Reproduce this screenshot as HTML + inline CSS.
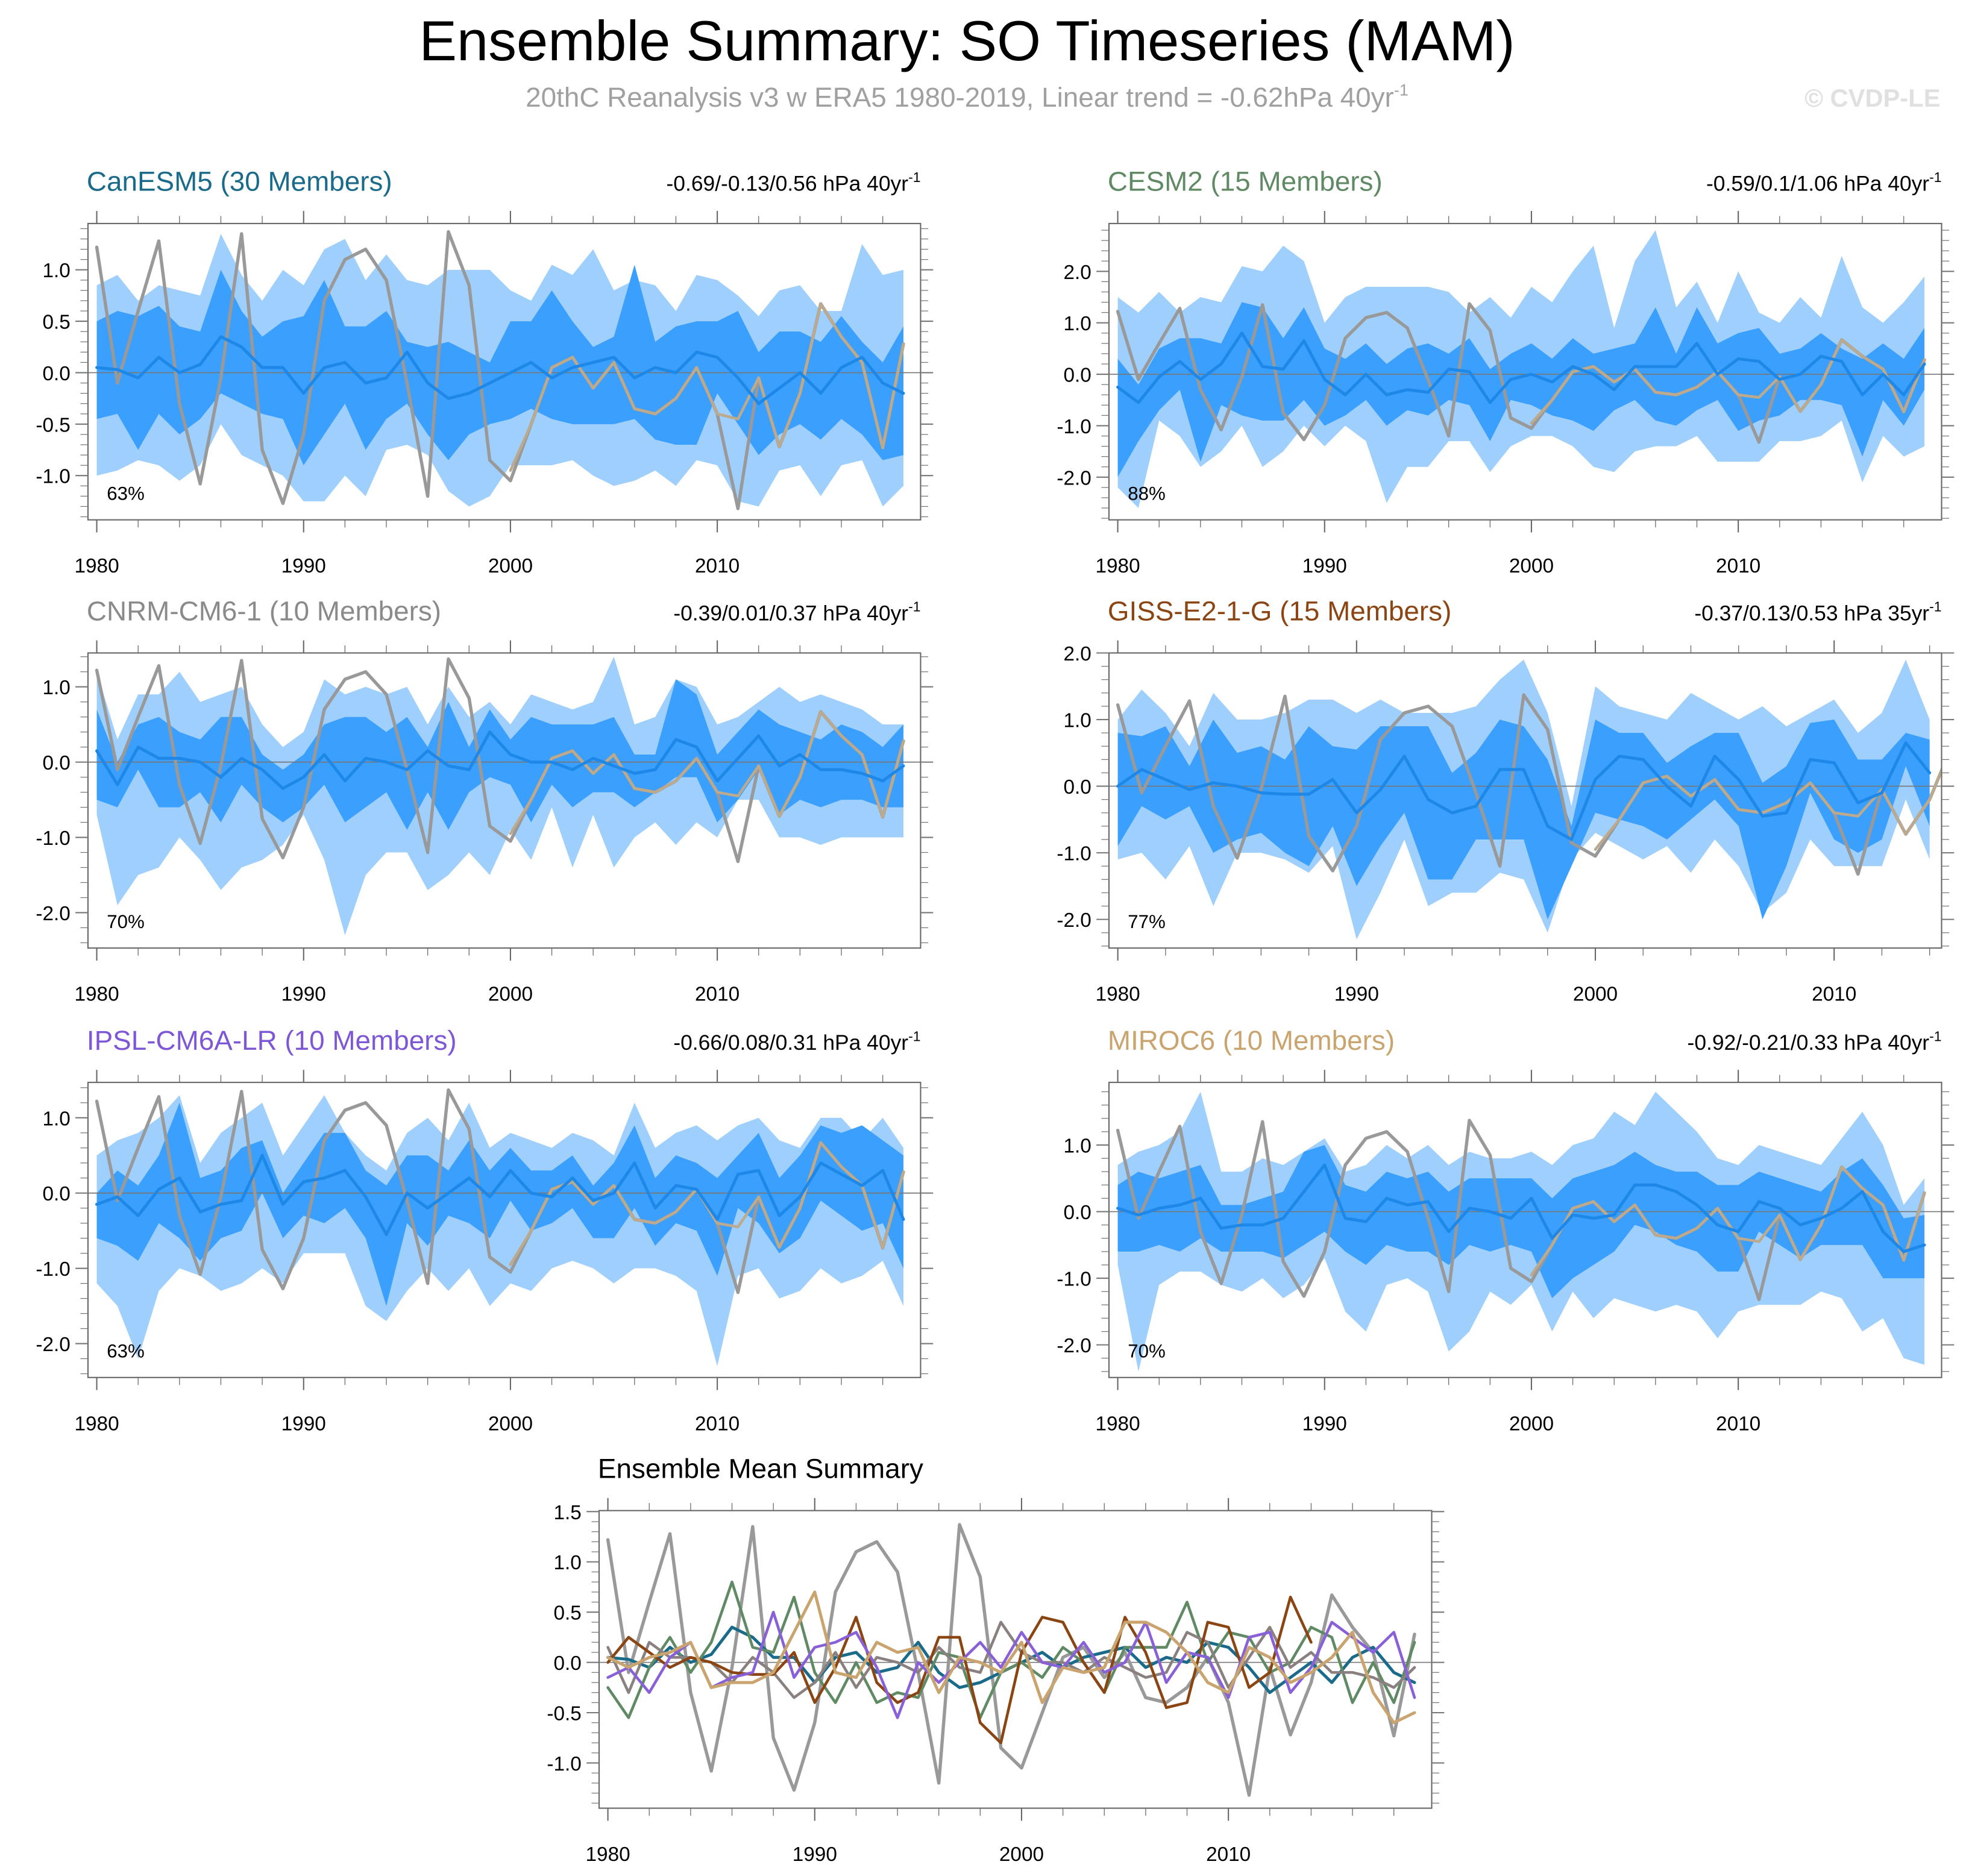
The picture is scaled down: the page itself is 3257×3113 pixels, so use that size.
<!DOCTYPE html>
<html><head><meta charset="utf-8"><style>
html,body{margin:0;padding:0;background:#fff}
svg{display:block}
text{font-family:"Liberation Sans",Arial,sans-serif}
</style></head><body>
<svg id="chart" xmlns="http://www.w3.org/2000/svg" width="3257" height="3113" viewBox="0 0 1563 1494">
<rect x="0" y="0" width="1563" height="1494" fill="#fff"/>
<text x="770" y="48" font-size="45" text-anchor="middle" fill="#000">Ensemble Summary: SO Timeseries (MAM)</text>
<text x="770" y="85" font-size="22" text-anchor="middle" fill="#a0a0a0">20thC Reanalysis v3 w ERA5 1980-2019, Linear trend = -0.62hPa 40yr<tspan dy="-9" font-size="13">-1</tspan></text>
<text x="1545" y="85" font-size="20" font-weight="bold" text-anchor="end" fill="#e0e0e0">© CVDP-LE</text>
</svg>
<script>
const years = [];
for (let y = 1980; y <= 2019; y++) years.push(y);
const obs = [1.22,-0.1,0.6,1.28,-0.3,-1.08,-0.05,1.35,-0.75,-1.27,-0.6,0.7,1.1,1.2,0.9,-0.1,-1.2,1.37,0.85,-0.85,-1.05,-0.5,0.05,0.15,-0.15,0.1,-0.35,-0.4,-0.25,0.05,-0.4,-1.32,-0.05,-0.72,-0.2,0.67,0.35,0.1,-0.73,0.28];
const era5 = [-0.95,-0.5,0.05,0.15,-0.15,0.1,-0.35,-0.4,-0.25,0.05,-0.4,-0.45,-0.05,-0.72,-0.2,0.67,0.35,0.1,-0.73,0.28];

const canMean=[0.05,0.03,-0.05,0.15,0.0,0.08,0.35,0.25,0.05,0.05,-0.2,0.05,0.1,-0.1,-0.05,0.2,-0.1,-0.25,-0.2,-0.1,0.0,0.1,-0.05,0.05,0.1,0.15,-0.05,0.05,0.0,0.2,0.15,-0.05,-0.3,-0.15,0.0,-0.2,0.05,0.15,-0.1,-0.2];
const canLHi=[0.85,0.95,0.7,0.85,0.8,0.75,1.35,0.95,0.7,1.0,0.85,1.2,1.3,0.9,1.15,0.9,0.85,1.0,1.0,1.0,0.8,0.7,1.05,0.95,1.2,0.8,0.9,0.85,0.6,0.95,0.9,0.75,0.55,0.8,0.85,0.6,0.6,1.25,0.95,1.0];
const canLLo=[-1.0,-0.95,-0.85,-0.9,-1.05,-0.9,-0.5,-0.8,-0.9,-1.0,-1.25,-1.25,-1.0,-1.2,-0.75,-0.7,-0.8,-1.15,-1.3,-1.2,-0.9,-0.9,-0.9,-0.85,-1.0,-1.1,-1.05,-0.95,-1.1,-0.85,-0.9,-1.25,-1.3,-0.95,-0.9,-1.2,-0.9,-0.85,-1.3,-1.1];
const canDHi=[0.5,0.6,0.55,0.65,0.45,0.4,1.0,0.6,0.35,0.5,0.55,0.9,0.45,0.45,0.6,0.3,0.25,0.3,0.2,0.1,0.5,0.5,0.8,0.5,0.25,0.35,1.05,0.3,0.45,0.5,0.5,0.6,0.2,0.4,0.4,0.3,0.55,0.3,0.1,0.45];
const canDLo=[-0.45,-0.4,-0.75,-0.4,-0.6,-0.45,-0.2,-0.3,-0.4,-0.45,-0.9,-0.6,-0.3,-0.75,-0.45,-0.3,-0.6,-0.85,-0.6,-0.5,-0.45,-0.35,-0.45,-0.5,-0.5,-0.5,-0.45,-0.65,-0.7,-0.7,-0.2,-0.5,-0.8,-0.6,-0.5,-0.65,-0.45,-0.6,-0.85,-0.8];

const cesMean=[-0.25,-0.55,-0.05,0.25,-0.1,0.2,0.8,0.15,0.1,0.65,-0.1,-0.4,0.0,-0.4,-0.3,-0.35,0.1,0.05,-0.55,-0.1,0.0,-0.15,0.15,0.0,-0.3,0.15,0.15,0.15,0.6,0.0,0.3,0.25,-0.1,0.0,0.35,0.25,-0.4,0.0,-0.4,0.2];
const cesLHi=[1.5,1.2,1.6,1.2,1.5,1.4,2.1,2.0,2.5,2.2,1.0,1.5,1.7,1.7,1.7,1.7,1.6,1.2,1.5,1.1,1.7,1.4,2.0,2.5,0.9,2.2,2.8,1.3,1.8,1.0,2.0,1.2,1.0,1.5,1.1,2.3,1.3,1.0,1.4,1.9];
const cesLLo=[-2.2,-2.6,-0.9,-1.2,-1.8,-1.5,-1.0,-1.8,-1.5,-1.0,-1.4,-1.0,-1.3,-2.5,-1.8,-1.8,-1.3,-1.3,-1.9,-1.4,-1.2,-1.2,-1.4,-1.8,-1.9,-1.5,-1.4,-1.4,-1.2,-1.7,-1.7,-1.7,-1.3,-1.3,-1.2,-0.9,-2.1,-1.2,-1.6,-1.4];
const cesDHi=[0.3,-0.2,0.5,0.7,0.7,0.6,1.4,1.3,0.7,1.3,0.5,0.3,0.6,0.2,0.5,0.6,0.4,0.7,0.1,0.4,0.6,0.3,0.7,0.4,0.5,0.6,1.3,0.4,1.3,0.6,0.8,0.9,0.4,0.5,0.8,0.5,0.3,0.6,0.3,0.9];
const cesDLo=[-2.0,-1.3,-0.7,-0.3,-1.7,-0.6,-0.8,-0.9,-0.9,-0.5,-1.0,-0.8,-0.5,-1.0,-0.7,-0.8,-0.5,-0.6,-1.3,-0.5,-0.6,-0.8,-0.9,-1.1,-0.7,-0.5,-0.9,-1.0,-0.7,-0.5,-1.1,-0.9,-0.8,-0.5,-0.5,-0.6,-1.6,-0.5,-1.0,-0.3];

const cnrMean=[0.15,-0.3,0.2,0.05,0.05,0.0,-0.2,0.05,-0.1,-0.35,-0.2,0.1,-0.25,0.05,0.0,-0.1,0.15,-0.05,-0.1,0.4,0.1,0.0,0.0,-0.1,0.05,-0.05,-0.15,-0.1,0.3,0.2,-0.25,0.05,0.35,-0.05,0.1,-0.1,-0.1,-0.15,-0.25,-0.05];
const cnrLHi=[1.2,0.3,0.9,0.9,1.2,0.8,0.9,1.0,0.5,0.2,0.4,1.1,0.9,1.0,0.9,1.0,0.5,1.0,0.6,0.8,0.5,0.9,0.8,0.7,0.8,1.4,0.5,0.6,1.1,1.0,0.5,0.6,0.8,1.0,0.8,0.9,0.8,0.7,0.5,0.5];
const cnrLLo=[-0.7,-1.9,-1.5,-1.4,-1.0,-1.3,-1.7,-1.4,-1.3,-1.1,-0.7,-1.3,-2.3,-1.5,-1.2,-1.2,-1.7,-1.5,-1.2,-1.5,-0.9,-1.3,-0.6,-1.4,-0.7,-1.4,-1.0,-0.8,-1.1,-0.8,-1.0,-0.5,-0.5,-1.0,-1.0,-1.1,-1.0,-1.0,-1.0,-1.0];
const cnrDHi=[0.7,0.0,0.5,0.6,0.4,0.3,0.6,0.6,0.1,-0.1,0.1,0.5,0.6,0.6,0.4,0.6,0.2,0.8,0.2,0.7,0.3,0.6,0.5,0.5,0.5,0.6,0.1,0.1,1.1,0.9,0.1,0.4,0.7,0.5,0.4,0.3,0.5,0.4,0.2,0.5];
const cnrDLo=[-0.5,-0.6,-0.1,-0.6,-0.6,-0.4,-0.8,-0.3,-0.6,-0.8,-0.6,-0.3,-0.8,-0.6,-0.4,-0.9,-0.4,-0.9,-0.4,-0.2,-0.3,-0.8,-0.3,-0.6,-0.4,-0.4,-0.6,-0.4,-0.2,-0.2,-0.8,-0.5,-0.1,-0.7,-0.5,-0.6,-0.5,-0.5,-0.6,-0.6];

const gisMean=[0.0,0.25,0.1,-0.05,0.05,0.0,-0.1,-0.12,-0.12,0.1,-0.4,-0.05,0.45,-0.2,-0.4,-0.3,0.25,0.25,-0.6,-0.8,0.1,0.45,0.4,0.0,-0.3,0.45,0.1,-0.45,-0.4,0.4,0.35,-0.25,-0.1,0.65,0.2];
const gisLHi=[1.0,1.45,1.1,0.6,1.4,1.0,1.0,1.1,1.3,1.3,1.1,1.3,1.1,1.1,1.1,1.2,1.6,1.9,1.1,-0.3,1.5,1.2,1.1,1.0,1.4,1.2,1.0,1.2,0.9,1.1,1.3,0.8,1.1,1.9,1.0];
const gisLLo=[-1.1,-1.0,-1.4,-0.9,-1.8,-1.0,-1.0,-1.1,-1.3,-0.9,-2.3,-1.6,-0.8,-1.8,-1.6,-1.6,-1.3,-1.4,-2.2,-1.1,-0.7,-0.9,-1.1,-0.9,-1.3,-0.8,-1.2,-1.9,-1.6,-0.8,-1.2,-1.2,-1.2,-0.2,-1.1];
const gisDHi=[0.8,0.75,0.9,0.3,1.0,0.5,0.6,0.4,0.9,0.6,0.55,0.9,0.9,0.9,0.2,0.5,1.0,0.9,0.4,-0.6,1.0,0.8,0.8,0.35,0.6,0.8,0.8,0.05,0.3,0.95,1.0,0.4,0.4,0.8,0.7];
const gisDLo=[-0.9,-0.3,-0.5,-0.3,-1.0,-0.8,-0.7,-1.0,-1.2,-0.6,-1.5,-0.9,-0.4,-1.4,-1.4,-0.8,-0.8,-0.8,-2.0,-1.2,-0.4,-0.5,-0.6,-0.8,-0.5,-0.2,-0.6,-2.0,-1.2,-0.1,-0.8,-1.0,-0.8,0.3,-0.6];

const ipsMean=[-0.15,-0.05,-0.3,0.05,0.2,-0.25,-0.15,-0.1,0.5,-0.15,0.15,0.2,0.3,-0.05,-0.55,0.0,-0.2,0.0,0.2,-0.05,0.3,0.0,-0.05,0.2,-0.1,0.0,0.4,-0.2,0.1,0.05,-0.35,0.25,0.3,-0.3,-0.05,0.4,0.25,0.1,0.3,-0.35];
const ipsLHi=[0.5,0.7,0.8,1.0,1.3,0.4,0.8,1.0,1.2,0.5,0.9,1.3,0.8,0.5,0.3,0.8,1.0,0.7,1.2,0.6,0.8,0.7,0.6,0.8,0.7,0.5,1.2,0.6,0.8,0.9,0.7,0.9,1.0,0.7,0.6,1.0,1.0,0.7,1.0,0.6];
const ipsLLo=[-1.2,-1.5,-2.2,-1.3,-1.0,-1.1,-1.3,-1.2,-1.0,-1.2,-0.8,-0.8,-0.8,-1.5,-1.7,-1.3,-1.0,-1.3,-1.0,-1.5,-1.2,-1.3,-1.0,-0.9,-1.0,-1.2,-1.0,-1.0,-1.1,-1.3,-2.3,-1.1,-1.0,-1.4,-1.3,-1.0,-1.2,-1.1,-0.9,-1.5];
const ipsDHi=[0.0,0.3,0.1,0.5,1.2,0.2,0.3,0.6,0.7,0.0,0.4,0.8,0.8,0.3,0.1,0.5,0.5,0.3,0.7,0.3,0.6,0.3,0.3,0.5,0.1,0.4,0.9,0.2,0.5,0.4,0.2,0.5,0.8,0.2,0.5,0.9,0.8,0.9,0.7,0.5];
const ipsDLo=[-0.6,-0.7,-0.9,-0.4,-0.6,-0.9,-0.6,-0.5,0.0,-0.6,-0.3,-0.4,-0.2,-0.6,-1.5,-0.4,-0.7,-0.3,-0.4,-0.6,-0.1,-0.5,-0.4,-0.2,-0.6,-0.6,-0.2,-0.7,-0.4,-0.5,-1.1,-0.2,-0.4,-0.8,-0.6,-0.1,-0.3,-0.5,-0.4,-1.0];

const mirMean=[0.05,-0.05,0.05,0.1,0.2,-0.25,-0.2,-0.2,-0.1,0.3,0.7,-0.1,-0.15,0.2,0.1,0.15,-0.3,0.05,0.0,-0.1,0.2,-0.4,-0.05,-0.1,-0.05,0.4,0.4,0.3,0.1,-0.2,-0.3,0.15,0.05,-0.2,-0.1,0.05,0.3,-0.3,-0.6,-0.5];
const mirLHi=[0.7,0.9,1.0,1.2,1.8,0.6,0.6,0.8,0.7,0.9,1.1,0.6,0.7,1.0,0.8,1.0,0.7,0.9,0.8,0.8,0.9,0.7,1.0,1.1,1.5,1.3,1.8,1.5,1.2,0.8,0.7,1.0,0.9,0.8,0.7,1.1,1.5,1.0,0.1,0.5];
const mirLLo=[-0.8,-2.4,-1.1,-0.9,-0.9,-1.1,-1.2,-1.0,-1.3,-1.1,-0.7,-1.5,-1.8,-1.1,-1.0,-1.2,-2.1,-1.8,-1.2,-1.4,-1.1,-1.8,-1.2,-1.6,-1.3,-1.4,-1.5,-1.4,-1.5,-1.9,-1.5,-1.4,-1.4,-1.4,-1.2,-1.3,-1.8,-1.6,-2.2,-2.3];
const mirDHi=[0.4,0.6,0.5,0.6,0.7,0.1,0.1,0.2,0.3,0.9,1.0,0.4,0.3,0.6,0.5,0.6,0.3,0.5,0.5,0.5,0.5,0.2,0.5,0.6,0.7,0.9,0.7,0.6,0.6,0.4,0.4,0.6,0.5,0.4,0.3,0.6,0.8,0.4,-0.1,-0.05];
const mirDLo=[-0.6,-0.6,-0.5,-0.6,-0.4,-0.6,-0.6,-0.6,-0.7,-0.5,-0.3,-0.6,-0.8,-0.5,-0.6,-0.6,-0.8,-0.5,-0.6,-0.5,-0.6,-1.3,-1.0,-0.8,-0.6,-0.2,-0.3,-0.5,-0.6,-0.9,-0.9,-0.3,-0.5,-0.7,-0.5,-0.5,-0.5,-1.0,-1.0,-1.0];

const yTicks1=[-1.0,-0.5,0.0,0.5,1.0];
const yTicks2=[-2.0,-1.0,0.0,1.0,2.0];
const yTicks3=[-2.0,-1.0,0.0,1.0];
const yTicksB=[-1.0,-0.5,0.0,0.5,1.0,1.5];
const xTicks=[1980,1990,2000,2010];

const NS='http://www.w3.org/2000/svg';
const svg=document.getElementById('chart');
function mk(tag,attrs,parent){const e=document.createElementNS(NS,tag);for(const k in attrs)e.setAttribute(k,attrs[k]);(parent||svg).appendChild(e);return e;}
let clipId=0;

function panel(p){
  const g=mk('g',{});
  
  
  const x0=p.x0,x1=p.x1,y0=p.y0,y1=p.y1;
  const xs=v=>x0+(v-p.xmin)/(p.xmax-p.xmin)*(x1-x0);
  const ys=v=>y1-(v-p.ymin)/(p.ymax-p.ymin)*(y1-y0);
  const cid='c'+(clipId++);
  const cp=mk('clipPath',{id:cid},g);mk('rect',{x:x0,y:y0,width:x1-x0,height:y1-y0},cp);
  const pg=mk('g',{'clip-path':'url(#'+cid+')'},g);
  function band(hi,lo,fill,nm){
    const n=hi.length;let d='';
    for(let i=0;i<n;i++)d+=(i?'L':'M')+xs(years[i]).toFixed(2)+','+ys(hi[i]).toFixed(2);
    for(let i=n-1;i>=0;i--)d+='L'+xs(years[i]).toFixed(2)+','+ys(lo[i]).toFixed(2);
    const e=mk('path',{d:d+'Z',fill:fill},pg);
    
    
  }
  function line(vals,startYear,col,w,nm){
    let d='';vals.forEach((v,i)=>{d+=(i?'L':'M')+xs(startYear+i).toFixed(2)+','+ys(v).toFixed(2);});
    const e=mk('path',{d:d,fill:'none',stroke:col,'stroke-width':w,'stroke-linejoin':'round','stroke-linecap':'round'},pg);
    
    
  }
  if(p.lhi){
    band(p.lhi,p.llo,'#9fcffd','outer-spread-band');
    band(p.dhi,p.dlo,'#3a9ffd','inner-spread-band');
  }
  const zl=mk('line',{x1:x0,x2:x1,y1:ys(0),y2:ys(0),stroke:'#777','stroke-width':0.8},pg);
  
  
  if(p.lhi){
    line(obs,1980,'#999',2.6,'observed-line');
    line(era5,2000,'#bbaa8e',2.2,'era5-line');
    line(p.mean,1980,'#1e88e8',2.4,'ensemble-mean-line');
  } else {
    p.series.forEach(s=>line(s.v,1980,s.c,s.w,s.n));
  }
  const fr=mk('rect',{x:x0,y:y0,width:x1-x0,height:y1-y0,fill:'none',stroke:'#666','stroke-width':1},g);
  
  
  for(let yr=1980;yr<=p.xmax;yr+=2){
    const X=xs(yr),maj=(yr%10===0),L=maj?10:6;
    mk('line',{x1:X,x2:X,y1:y1,y2:y1+L,stroke:'#666','stroke-width':maj?1:0.6},g);
    mk('line',{x1:X,x2:X,y1:y0,y2:y0-L,stroke:'#666','stroke-width':maj?1:0.6},g);
  }
  xTicks.forEach(t=>{
    const e=mk('text',{x:xs(t),y:y1+42,'font-size':16,'text-anchor':'middle',fill:'#000'},g);
    e.textContent=t;
    
    
  });
  const st=p.minor;
  for(let v=Math.ceil(p.ymin/st)*st;v<=p.ymax+1e-9;v+=st){
    const Y=ys(v);const maj=p.yt.some(t=>Math.abs(t-v)<1e-6);const L=maj?10:6;
    mk('line',{x1:x0,x2:x0-L,y1:Y,y2:Y,stroke:'#777','stroke-width':maj?1:0.6},g);
    mk('line',{x1:x1,x2:x1+L,y1:Y,y2:Y,stroke:'#777','stroke-width':maj?1:0.6},g);
  }
  p.yt.forEach(t=>{
    const e=mk('text',{x:x0-14,y:ys(t)+6,'font-size':16,'text-anchor':'end',fill:'#000'},g);
    e.textContent=t.toFixed(1);
    
    
  });
  const tt=mk('text',{x:x0-1,y:y0-26,'font-size':p.tfs||22,fill:p.color},g);
  tt.textContent=p.title;
  
  
  if(p.stats){
    const st2=mk('text',{x:x1,y:y0-26,'font-size':17,'text-anchor':'end',fill:'#000'},g);
    st2.innerHTML=p.stats+'<tspan dy="-7" font-size="11">-1</tspan>';
    
    
  }
  if(p.pct){
    const pc=mk('text',{x:x0+15,y:y1-16,'font-size':15,fill:'#000'},g);
    pc.textContent=p.pct;
    
    
  }
}
const L={x0:70,x1:733},R={x0:883,x1:1546};
const X40={xmin:1979.575,xmax:2019.83};
const rows=[{y0:178,y1:414},{y0:520,y1:755},{y0:862,y1:1097}];
panel({name:'canesm5',...L,...X40,...rows[0],ymin:-1.43,ymax:1.45,yt:yTicks1,minor:0.1,title:'CanESM5 (30 Members)',color:'#1a6a8a',stats:'-0.69/-0.13/0.56 hPa 40yr',pct:'63%',mean:canMean,lhi:canLHi,llo:canLLo,dhi:canDHi,dlo:canDLo});
panel({name:'cesm2',...R,...X40,...rows[0],ymin:-2.83,ymax:2.93,yt:yTicks2,minor:0.2,title:'CESM2 (15 Members)',color:'#5f8a63',stats:'-0.59/0.1/1.06 hPa 40yr',pct:'88%',mean:cesMean,lhi:cesLHi,llo:cesLLo,dhi:cesDHi,dlo:cesDLo});
panel({name:'cnrm-cm6-1',...L,...X40,...rows[1],ymin:-2.47,ymax:1.45,yt:yTicks3,minor:0.2,title:'CNRM-CM6-1 (10 Members)',color:'#8a8a8a',stats:'-0.39/0.01/0.37 hPa 40yr',pct:'70%',mean:cnrMean,lhi:cnrLHi,llo:cnrLLo,dhi:cnrDHi,dlo:cnrDLo});
panel({name:'giss-e2-1-g',...R,xmin:1979.63,xmax:2014.5,...rows[1],ymin:-2.43,ymax:2.0,yt:yTicks2,minor:0.2,title:'GISS-E2-1-G (15 Members)',color:'#8b4513',stats:'-0.37/0.13/0.53 hPa 35yr',pct:'77%',mean:gisMean,lhi:gisLHi,llo:gisLLo,dhi:gisDHi,dlo:gisDLo});
panel({name:'ipsl-cm6a-lr',...L,...X40,...rows[2],ymin:-2.45,ymax:1.47,yt:yTicks3,minor:0.2,title:'IPSL-CM6A-LR (10 Members)',color:'#7e57d6',stats:'-0.66/0.08/0.31 hPa 40yr',pct:'63%',mean:ipsMean,lhi:ipsLHi,llo:ipsLLo,dhi:ipsDHi,dlo:ipsDLo});
panel({name:'miroc6',...R,...X40,...rows[2],ymin:-2.49,ymax:1.94,yt:yTicks3,minor:0.2,title:'MIROC6 (10 Members)',color:'#c9a46e',stats:'-0.92/-0.21/0.33 hPa 40yr',pct:'70%',mean:mirMean,lhi:mirLHi,llo:mirLLo,dhi:mirDHi,dlo:mirDLo});
panel({name:'ensemble-mean-summary',x0:477,x1:1140,...X40,y0:1203,y1:1440,ymin:-1.45,ymax:1.51,yt:yTicksB,minor:0.1,title:'Ensemble Mean Summary',tfs:22,color:'#000',
  series:[{v:obs,c:'#999',w:2.6,n:'observed-line'},{v:canMean,c:'#1a6a8a',w:2.4,n:'canesm5-mean-line'},{v:cesMean,c:'#5f8a63',w:2.2,n:'cesm2-mean-line'},{v:cnrMean,c:'#8a8080',w:2.2,n:'cnrm-mean-line'},{v:gisMean,c:'#8b4513',w:2.2,n:'giss-mean-line'},{v:ipsMean,c:'#8a60d8',w:2.2,n:'ipsl-mean-line'},{v:mirMean,c:'#c9a46e',w:2.4,n:'miroc6-mean-line'}]});
</script>
</body></html>
